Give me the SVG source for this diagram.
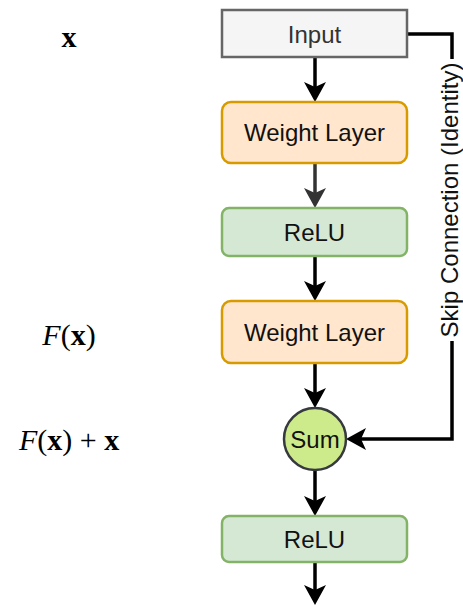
<svg xmlns="http://www.w3.org/2000/svg" width="463" height="606" viewBox="0 0 463 606">
  <style>
    .lbl { font-family: "Liberation Sans", Arial, sans-serif; font-size: 24px; text-anchor: middle; fill: #111; }
    .math { font-family: "Liberation Serif", "Times New Roman", serif; font-size: 30px; text-anchor: middle; fill: #000; }
    .edge { fill: none; stroke: #000; stroke-width: 3.5; }
    .w { fill: #ffe6cc; stroke: #d79b00; stroke-width: 2.5; }
    .r { fill: #d5e8d4; stroke: #82b366; stroke-width: 2.5; }
  </style>
  <defs>
    <marker id="arr" markerUnits="userSpaceOnUse" viewBox="0 0 22 24" markerWidth="22" markerHeight="24" refX="10" refY="12" orient="auto">
      <path d="M20,12 L0,1 L5,12 L0,23 Z" fill="#000"/>
    </marker>
    <marker id="arrg" markerUnits="userSpaceOnUse" viewBox="0 0 22 24" markerWidth="22" markerHeight="24" refX="10" refY="12" orient="auto">
      <path d="M20,12 L0,1 L5,12 L0,23 Z" fill="#333"/>
    </marker>
  </defs>

  <g id="connectors">
    <path class="edge" d="M315,57 V92" marker-end="url(#arr)"/>
    <path class="edge" d="M315,163 V198" style="stroke:#333" marker-end="url(#arrg)"/>
    <path class="edge" d="M315,256 V291" marker-end="url(#arr)"/>
    <path class="edge" d="M315,363 V398" marker-end="url(#arr)"/>
    <path class="edge" d="M315,470 V506" marker-end="url(#arr)"/>
    <path class="edge" d="M315,562 V595" marker-end="url(#arr)"/>
    <path class="edge" d="M407,34 H452 V439 H356" marker-end="url(#arr)"/>
    <rect x="439" y="59" width="26" height="282" fill="#fff"/>
    <text class="lbl" transform="translate(452,200) rotate(-90)" x="0" y="6">Skip Connection (Identity)</text>
  </g>

  <g id="input">
    <rect x="222" y="10" width="185" height="47" fill="#f5f5f5" stroke="#666" stroke-width="2.5"/>
    <text class="lbl" x="314.5" y="43" style="fill:#333">Input</text>
  </g>
  <g id="weight1">
    <rect class="w" x="222" y="102" width="185" height="61" rx="9"/>
    <text class="lbl" x="314.5" y="141">Weight Layer</text>
  </g>
  <g id="relu1">
    <rect class="r" x="222" y="208" width="185" height="48" rx="7"/>
    <text class="lbl" x="314.5" y="241">ReLU</text>
  </g>
  <g id="weight2">
    <rect class="w" x="222" y="301" width="185" height="62" rx="9"/>
    <text class="lbl" x="314.5" y="341">Weight Layer</text>
  </g>
  <g id="sum">
    <circle cx="315" cy="439" r="31" fill="#cdeb8b" stroke="#36393d" stroke-width="2.5"/>
    <text class="lbl" x="315" y="448">Sum</text>
  </g>
  <g id="relu2">
    <rect class="r" x="222" y="516" width="185" height="46" rx="7"/>
    <text class="lbl" x="314.5" y="548">ReLU</text>
  </g>

  <g id="math-labels">
    <text class="math" x="69" y="47" font-weight="bold">x</text>
    <text class="math" x="69" y="345"><tspan font-style="italic">F</tspan>(<tspan font-weight="bold">x</tspan>)</text>
    <text class="math" x="69" y="450"><tspan font-style="italic">F</tspan>(<tspan font-weight="bold">x</tspan>) + <tspan font-weight="bold">x</tspan></text>
  </g>
</svg>
